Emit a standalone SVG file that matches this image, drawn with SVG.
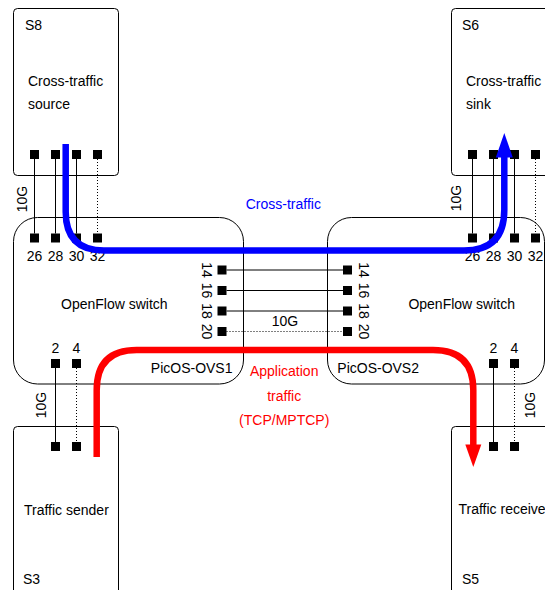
<svg xmlns="http://www.w3.org/2000/svg" width="545" height="590" viewBox="0 0 545 590">
<defs>
<style>
.box{fill:#fff;stroke:#000;stroke-width:1}
.port{fill:#000}
.t{font-family:"Liberation Sans",Arial,sans-serif;font-size:14px;fill:#000}
.m{text-anchor:middle}
.e{text-anchor:end}
.link{stroke:#000;stroke-width:1;fill:none}
.dot{stroke:#000;stroke-width:1;fill:none;stroke-dasharray:1,2}
.blue{stroke:#0000ff;stroke-width:6.5;fill:none}
.red{stroke:#ff0000;stroke-width:6.5;fill:none}
</style>
</defs>
<rect width="545" height="590" fill="#fff"/>

<g id="S8">
<rect class="box" x="13.5" y="8.5" width="105" height="167" rx="4"/>
<text class="t" x="25" y="30">S8</text>
<text class="t" x="28" y="86">Cross-traffic</text>
<text class="t" x="28" y="109">source</text>
<rect class="port" x="30" y="150" width="9" height="9"/>
<rect class="port" x="51" y="150" width="9" height="9"/>
<rect class="port" x="72" y="150" width="9" height="9"/>
<rect class="port" x="93" y="150" width="9" height="9"/>
</g>

<g id="S6">
<rect class="box" x="451.5" y="8.5" width="105" height="167" rx="4"/>
<text class="t" x="462" y="30">S6</text>
<text class="t" x="466" y="86">Cross-traffic</text>
<text class="t" x="466" y="109">sink</text>
<rect class="port" x="468" y="150" width="9" height="9"/>
<rect class="port" x="489" y="150" width="9" height="9"/>
<rect class="port" x="510" y="150" width="9" height="9"/>
<rect class="port" x="531" y="150" width="9" height="9"/>
</g>

<g id="S3">
<rect class="box" x="13.5" y="426.5" width="105" height="190" rx="4"/>
<text class="t" x="24" y="515">Traffic sender</text>
<text class="t" x="23" y="584">S3</text>
<rect class="port" x="51" y="442" width="9" height="9"/>
<rect class="port" x="72" y="442" width="9" height="9"/>
</g>

<g id="S5">
<rect class="box" x="451.5" y="426.5" width="105" height="190" rx="4"/>
<text class="t" x="458.5" y="514">Traffic receive</text>
<text class="t" x="462" y="584">S5</text>
<rect class="port" x="489" y="442" width="9" height="9"/>
<rect class="port" x="510" y="442" width="9" height="9"/>
</g>

<g id="OVS1">
<rect class="box" x="13.5" y="217.5" width="230" height="166.5" rx="24"/>
<text class="t m" x="114.3" y="309">OpenFlow switch</text>
<text class="t e" x="232.5" y="373">PicOS-OVS1</text>
<rect class="port" x="30" y="233.5" width="9" height="9"/>
<rect class="port" x="51" y="233.5" width="9" height="9"/>
<rect class="port" x="72" y="233.5" width="9" height="9"/>
<rect class="port" x="93" y="233.5" width="9" height="9"/>
<text class="t m" x="34.5" y="261">26</text>
<text class="t m" x="55.5" y="261">28</text>
<text class="t m" x="76.5" y="261">30</text>
<text class="t m" x="97.5" y="261">32</text>
<rect class="port" x="217.5" y="265.5" width="9" height="9"/>
<rect class="port" x="217.5" y="286" width="9" height="9"/>
<rect class="port" x="217.5" y="306.5" width="9" height="9"/>
<rect class="port" x="217.5" y="327" width="9" height="9"/>
<text class="t m" transform="translate(206.5,270) rotate(90)" dy=".35em">14</text>
<text class="t m" transform="translate(206.5,290.5) rotate(90)" dy=".35em">16</text>
<text class="t m" transform="translate(206.5,311) rotate(90)" dy=".35em">18</text>
<text class="t m" transform="translate(206.5,331.5) rotate(90)" dy=".35em">20</text>
<rect class="port" x="51" y="359" width="9" height="9"/>
<rect class="port" x="72" y="359" width="9" height="9"/>
<text class="t m" x="55.5" y="353">2</text>
<text class="t m" x="76.5" y="353">4</text>
</g>

<g id="OVS2">
<rect class="box" x="327.5" y="217.5" width="217" height="166.5" rx="24"/>
<text class="t m" x="461.7" y="309">OpenFlow switch</text>
<text class="t" x="337.3" y="373">PicOS-OVS2</text>
<rect class="port" x="468" y="233.5" width="9" height="9"/>
<rect class="port" x="489" y="233.5" width="9" height="9"/>
<rect class="port" x="510" y="233.5" width="9" height="9"/>
<rect class="port" x="531" y="233.5" width="9" height="9"/>
<text class="t m" x="472.5" y="261">26</text>
<text class="t m" x="493.5" y="261">28</text>
<text class="t m" x="514.5" y="261">30</text>
<text class="t m" x="535.5" y="261">32</text>
<rect class="port" x="343" y="265.5" width="9" height="9"/>
<rect class="port" x="343" y="286" width="9" height="9"/>
<rect class="port" x="343" y="306.5" width="9" height="9"/>
<rect class="port" x="343" y="327" width="9" height="9"/>
<text class="t m" transform="translate(363.5,270) rotate(90)" dy=".35em">14</text>
<text class="t m" transform="translate(363.5,290.5) rotate(90)" dy=".35em">16</text>
<text class="t m" transform="translate(363.5,311) rotate(90)" dy=".35em">18</text>
<text class="t m" transform="translate(363.5,331.5) rotate(90)" dy=".35em">20</text>
<rect class="port" x="489" y="359" width="9" height="9"/>
<rect class="port" x="510" y="359" width="9" height="9"/>
<text class="t m" x="493.5" y="353">2</text>
<text class="t m" x="514.5" y="353">4</text>
</g>

<g id="connectors">
<line class="link" x1="34.5" y1="159" x2="34.5" y2="233.5"/>
<line class="link" x1="55.5" y1="159" x2="55.5" y2="233.5"/>
<line class="link" x1="76.5" y1="159" x2="76.5" y2="233.5"/>
<line class="dot" x1="97.5" y1="159" x2="97.5" y2="233.5"/>
<line class="link" x1="472.5" y1="159" x2="472.5" y2="233.5"/>
<line class="link" x1="493.5" y1="159" x2="493.5" y2="233.5"/>
<line class="link" x1="514.5" y1="159" x2="514.5" y2="233.5"/>
<line class="dot" x1="535.5" y1="159" x2="535.5" y2="233.5"/>
<line class="link" x1="226.5" y1="270" x2="343" y2="270"/>
<line class="link" x1="226.5" y1="290.5" x2="343" y2="290.5"/>
<line class="link" x1="226.5" y1="311" x2="343" y2="311"/>
<line class="dot" x1="226.5" y1="331.5" x2="343" y2="331.5"/>
<line class="link" x1="55.5" y1="368" x2="55.5" y2="442"/>
<line class="dot" x1="76.5" y1="368" x2="76.5" y2="442"/>
<line class="link" x1="493.5" y1="368" x2="493.5" y2="442"/>
<line class="dot" x1="514.5" y1="368" x2="514.5" y2="442"/>
<text class="t m" transform="translate(22.5,199) rotate(-90)" dy=".35em">10G</text>
<text class="t m" transform="translate(456.3,198) rotate(-90)" dy=".35em">10G</text>
<text class="t m" transform="translate(41,405) rotate(-90)" dy=".35em">10G</text>
<text class="t m" transform="translate(530,405) rotate(-90)" dy=".35em">10G</text>
<text class="t m" x="285" y="326">10G</text>
</g>

<g id="flows">
<path class="blue" d="M65.7,144 L65.7,212 Q65.7,250.5 104,250.5 L464,250.5 Q504.3,250.5 504.3,210 L504.3,156"/>
<polygon fill="#0000ff" points="504.3,133 495.8,157.5 512.8,157.5"/>
<text class="t m" x="283.3" y="209" style="fill:#0000ff">Cross-traffic</text>
<path class="red" d="M96.7,457 L96.7,390 Q96.7,350 136.7,350 L433,350 Q473.3,350 473.3,390 L473.3,446"/>
<polygon fill="#ff0000" points="473.3,467 465.3,444.5 481.3,444.5"/>
<text class="t m" x="284.2" y="376" style="fill:#ff0000">Application</text>
<text class="t m" x="284.2" y="400.5" style="fill:#ff0000">traffic</text>
<text class="t m" x="284.2" y="425" style="fill:#ff0000">(TCP/MPTCP)</text>
</g>
</svg>
